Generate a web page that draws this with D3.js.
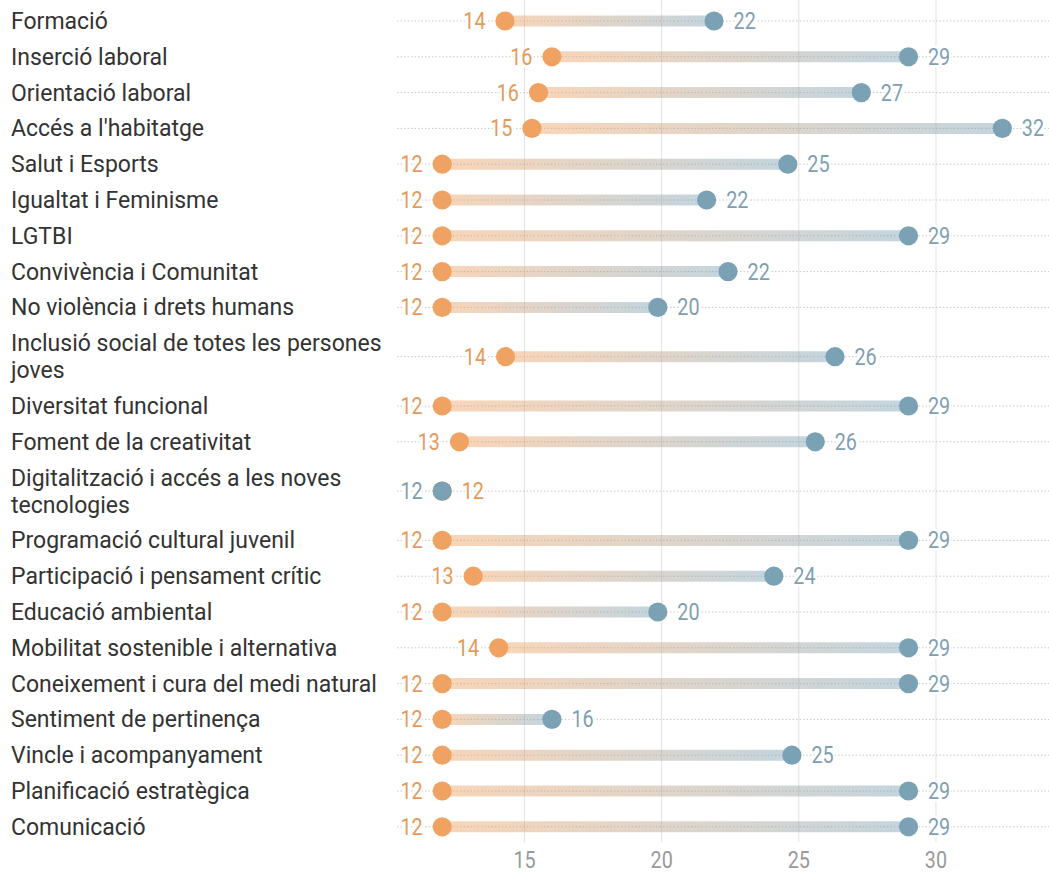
<!DOCTYPE html>
<html>
<head>
<meta charset="utf-8">
<script src="https://cdn.jsdelivr.net/npm/d3@7"></script>
<style>
  body { margin: 0; background: #fff; }
  svg { display: block; }
  .cat { font-family: Roboto, "Noto Sans", sans-serif; font-size: 23px; fill: #333; }
  .num { font-family: Roboto, sans-serif; font-size: 23px; paint-order: stroke; stroke: #fff; stroke-width: 5px; stroke-linejoin: round; }
  .tick-label { font-family: Roboto, sans-serif; font-size: 23px; fill: #9a9a9a; }
</style>
</head>
<body>
<svg id="chart" width="1049" height="877"></svg>
<script>
// Topics, in display order
const categories = [
  "Formació",
  "Inserció laboral",
  "Orientació laboral",
  "Accés a l'habitatge",
  "Salut i Esports",
  "Igualtat i Feminisme",
  "LGTBI",
  "Convivència i Comunitat",
  "No violència i drets humans",
  "Inclusió social de totes les persones joves",
  "Diversitat funcional",
  "Foment de la creativitat",
  "Digitalització i accés a les noves tecnologies",
  "Programació cultural juvenil",
  "Participació i pensament crític",
  "Educació ambiental",
  "Mobilitat sostenible i alternativa",
  "Coneixement i cura del medi natural",
  "Sentiment de pertinença",
  "Vincle i acompanyament",
  "Planificació estratègica",
  "Comunicació"
];

// Lower value of each pair (orange dots)
const startValues = [
  14.29, 16.0, 15.51, 15.27, 12, 12, 12, 12, 12, 14.31, 12,
  12.63, 12, 12, 13.13, 12, 14.06, 12, 12, 12, 12, 12
];

// Upper value of each pair (blue dots)
const endValues = [
  21.91, 29.0, 27.28, 32.42, 24.6, 21.64, 29, 22.42, 19.86, 26.32, 29,
  25.6, 12, 29, 24.09, 19.86, 29, 29, 16.0, 24.75, 29, 29
];

const xTicks = [15, 20, 25, 30];

const orange = "#f0a262";
const blue = "#7ba1b5";
const orangeText = "#e59a5c";
const blueText = "#7f9fb2";

const W = 1049, H = 877;
const svg = d3.select("#chart");
const fmt = d3.format(".0f");
const squeeze = 0.86; // narrow figures for numbers

const x = d3.scaleLinear().domain([12, 33]).range([442.2, 442.2 + 21 * 27.43]);

// Wrap long topic names to the label column width
const labelWidth = 385;
const measurer = svg.append("text").attr("class", "cat").attr("visibility", "hidden");
function wrap(str) {
  const words = str.split(" ");
  const lines = [];
  let cur = "";
  for (const w of words) {
    const t = cur ? cur + " " + w : w;
    measurer.text(t);
    if (measurer.node().getComputedTextLength() > labelWidth && cur) {
      lines.push(cur);
      cur = w;
    } else {
      cur = t;
    }
  }
  lines.push(cur);
  return lines;
}

const rows = categories.map((c, i) => ({
  name: c,
  lines: wrap(c),
  a: startValues[i],
  b: endValues[i],
  i
}));
measurer.remove();

// Row heights in "row units": one unit per row plus extra for wrapped lines
const lineExtra = 27 / 35.8;
let acc = 0;
rows.forEach(r => {
  const u = 1 + (r.lines.length - 1) * lineExtra;
  r.mid = acc + u / 2;
  acc += u;
});
const y = d3.scaleLinear().domain([0, acc]).range([3.1, 3.1 + acc * 35.8]);

// Vertical grid
svg.append("g")
  .selectAll("line")
  .data(xTicks)
  .join("line")
  .attr("x1", d => x(d)).attr("x2", d => x(d))
  .attr("y1", 0).attr("y2", 842)
  .attr("stroke", "#e2e2e2").attr("stroke-width", 1);

// Dotted row guides
svg.append("g")
  .selectAll("line")
  .data(rows)
  .join("line")
  .attr("x1", 397).attr("x2", W)
  .attr("y1", d => y(d.mid)).attr("y2", d => y(d.mid))
  .attr("stroke", "#c8c8c8").attr("stroke-width", 1)
  .attr("stroke-dasharray", "1.5,2");

// Per-row gradients from orange to blue
const defs = svg.append("defs");
rows.forEach(r => {
  const g = defs.append("linearGradient")
    .attr("id", "grad" + r.i)
    .attr("gradientUnits", "userSpaceOnUse")
    .attr("x1", x(r.a)).attr("x2", x(r.b))
    .attr("y1", 0).attr("y2", 0);
  g.append("stop").attr("offset", "0%").attr("stop-color", orange).attr("stop-opacity", 0.45);
  g.append("stop").attr("offset", "100%").attr("stop-color", blue).attr("stop-opacity", 0.45);
});

// Bars connecting the pair
svg.append("g")
  .selectAll("line")
  .data(rows.filter(r => r.b > r.a))
  .join("line")
  .attr("x1", d => x(d.a)).attr("x2", d => x(d.b))
  .attr("y1", d => y(d.mid)).attr("y2", d => y(d.mid))
  .attr("stroke", d => `url(#grad${d.i})`)
  .attr("stroke-width", 11);

// Dots
const r0 = 9.6;
svg.append("g")
  .selectAll("circle")
  .data(rows)
  .join("circle")
  .attr("cx", d => x(d.a)).attr("cy", d => y(d.mid)).attr("r", r0)
  .attr("fill", orange);
svg.append("g")
  .selectAll("circle")
  .data(rows)
  .join("circle")
  .attr("cx", d => x(d.b)).attr("cy", d => y(d.mid)).attr("r", r0)
  .attr("fill", blue);

// Value labels: lower value to the left, upper value to the right
const off = 19.5;
function numLabel(sel, val, left, color) {
  sel.join("text")
    .attr("class", "num")
    .attr("transform", d => `translate(${left(d) ? x(val(d)) - off : x(val(d)) + off},${y(d.mid)}) scale(${squeeze},1)`)
    .attr("dy", "0.35em")
    .attr("text-anchor", d => left(d) ? "end" : "start")
    .attr("fill", color)
    .text(d => fmt(val(d)));
}
const numG = svg.append("g");
numLabel(numG.append("g").selectAll("text").data(rows), d => d.a, d => d.a < d.b, orangeText);
numLabel(numG.append("g").selectAll("text").data(rows), d => d.b, d => !(d.b > d.a), blueText);

// Topic names
const lineH = 27;
const cat = svg.append("g")
  .selectAll("text")
  .data(rows)
  .join("text")
  .attr("class", "cat")
  .attr("x", 11)
  .attr("y", d => y(d.mid) - (d.lines.length - 1) * lineH / 2);
cat.selectAll("tspan")
  .data(d => d.lines)
  .join("tspan")
  .attr("x", 11)
  .attr("dy", (d, k) => k === 0 ? "0.35em" : lineH)
  .text(d => d);

// X axis
const axis = d3.axisBottom(x).tickValues(xTicks).tickSize(0).tickPadding(0);
const ax = svg.append("g").attr("transform", "translate(0,852)").call(axis);
ax.select(".domain").remove();
ax.selectAll("text")
  .attr("class", "tick-label")
  .attr("dy", "0.71em")
  .attr("fill", null)
  .attr("font-size", null)
  .attr("font-family", null)
  .attr("transform", `scale(${squeeze},1)`)
  .attr("x", function () { return 0; });
ax.selectAll(".tick")
  .attr("transform", d => `translate(${x(d)},0)`);
</script>
</body>
</html>
